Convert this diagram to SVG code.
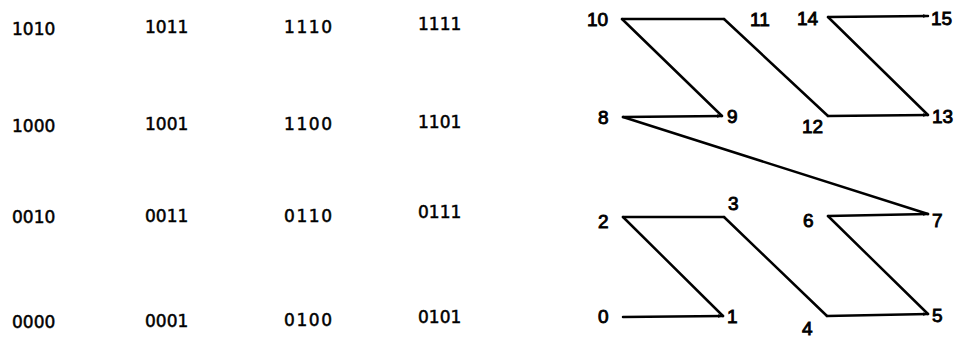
<svg xmlns="http://www.w3.org/2000/svg" width="963" height="338" viewBox="0 0 963 338">
<style>
.code{font-family:"DejaVu Sans","Liberation Sans",sans-serif;font-size:17px;fill:#000;stroke:#000;stroke-width:0.5}
.lbl{font-family:"Liberation Sans",Arial,sans-serif;font-size:19px;fill:#000;stroke:#000;stroke-width:0.9}
.seg{stroke:#000;stroke-width:2.5;fill:none;stroke-linecap:round;stroke-linejoin:miter}
</style>
<defs>
<marker id="ah" markerUnits="userSpaceOnUse" markerWidth="6" markerHeight="5" refX="5" refY="2.5" orient="auto">
<path d="M0,0.8 L6,2.5 L0,4.2 Z" fill="#000"/>
</marker>
</defs>
<rect width="963" height="338" fill="#fff"/>
<g id="grid">
<g id="c1010"><text class="code" x="12" y="35">1010</text></g>
<g id="c1011"><text class="code" x="145" y="33">1011</text></g>
<g id="c1110"><text class="code" x="284" y="33" textLength="48">1110</text></g>
<g id="c1111"><text class="code" x="418" y="30">1111</text></g>
<g id="c1000"><text class="code" x="12" y="132">1000</text></g>
<g id="c1001"><text class="code" x="145" y="130">1001</text></g>
<g id="c1100"><text class="code" x="284" y="130" textLength="48">1100</text></g>
<g id="c1101"><text class="code" x="418" y="128">1101</text></g>
<g id="c0010"><text class="code" x="12" y="223">0010</text></g>
<g id="c0011"><text class="code" x="145" y="222">0011</text></g>
<g id="c0110"><text class="code" x="284" y="222" textLength="48">0110</text></g>
<g id="c0111"><text class="code" x="418" y="218">0111</text></g>
<g id="c0000"><text class="code" x="12" y="328">0000</text></g>
<g id="c0001"><text class="code" x="145" y="327">0001</text></g>
<g id="c0100"><text class="code" x="284" y="326" textLength="48">0100</text></g>
<g id="c0101"><text class="code" x="418" y="323">0101</text></g>
</g>
<g id="connectors">
<line class="seg" x1="623" y1="317" x2="723" y2="316" marker-end="url(#ah)"/>
<line class="seg" x1="723" y1="316" x2="623" y2="217"/>
<line class="seg" x1="623" y1="217" x2="724" y2="217"/>
<line class="seg" x1="724" y1="217" x2="827" y2="316"/>
<line class="seg" x1="827" y1="316" x2="928" y2="314" marker-end="url(#ah)"/>
<line class="seg" x1="928" y1="314" x2="828" y2="216"/>
<line class="seg" x1="828" y1="216" x2="928" y2="214" marker-end="url(#ah)"/>
<line class="seg" x1="928" y1="214" x2="623" y2="117"/>
<line class="seg" x1="623" y1="117" x2="722" y2="116" marker-end="url(#ah)"/>
<line class="seg" x1="722" y1="116" x2="622" y2="19"/>
<line class="seg" x1="622" y1="19" x2="724" y2="19"/>
<line class="seg" x1="724" y1="19" x2="828" y2="116"/>
<line class="seg" x1="828" y1="116" x2="928" y2="115" marker-end="url(#ah)"/>
<line class="seg" x1="928" y1="115" x2="828" y2="17"/>
<line class="seg" x1="828" y1="17" x2="928" y2="16" marker-end="url(#ah)"/>
</g>
<g id="n0"><text class="lbl" x="598" y="323">0</text></g>
<g id="n1"><text class="lbl" x="727" y="323">1</text></g>
<g id="n2"><text class="lbl" x="598" y="228">2</text></g>
<g id="n3"><text class="lbl" x="728" y="210">3</text></g>
<g id="n4"><text class="lbl" x="802" y="335">4</text></g>
<g id="n5"><text class="lbl" x="932" y="322">5</text></g>
<g id="n6"><text class="lbl" x="803" y="227">6</text></g>
<g id="n7"><text class="lbl" x="932" y="227">7</text></g>
<g id="n8"><text class="lbl" x="598" y="124">8</text></g>
<g id="n9"><text class="lbl" x="727" y="123">9</text></g>
<g id="n10"><text class="lbl" x="587" y="26">10</text></g>
<g id="n11"><text class="lbl" x="750" y="26">11</text></g>
<g id="n12"><text class="lbl" x="802" y="133">12</text></g>
<g id="n13"><text class="lbl" x="932" y="123">13</text></g>
<g id="n14"><text class="lbl" x="797" y="25">14</text></g>
<g id="n15"><text class="lbl" x="931" y="25">15</text></g>
</svg>
